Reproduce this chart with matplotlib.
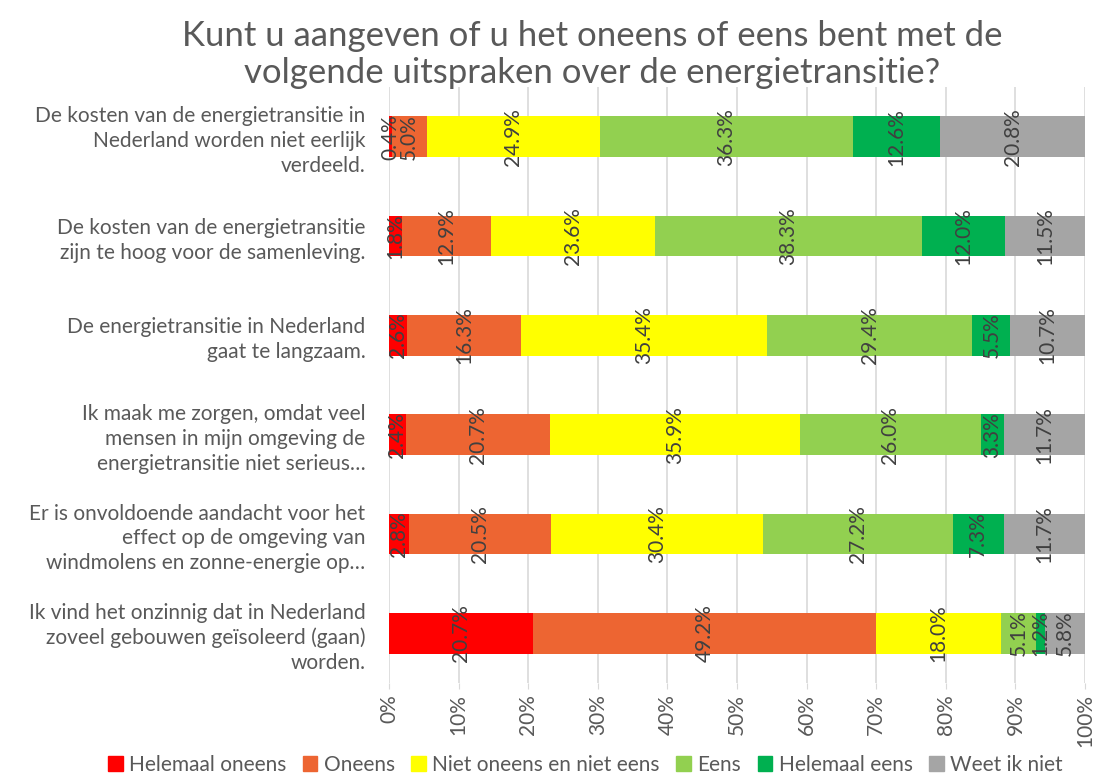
import numpy as np
import matplotlib.pyplot as plt
from matplotlib.patches import Patch

plt.rcParams['font.family'] = ['Lato', 'DejaVu Sans']

# ── data ───────────────────────────────────────
statements = [
    "De kosten van de energietransitie in\nNederland worden niet eerlijk\nverdeeld.",
    "De kosten van de energietransitie\nzijn te hoog voor de samenleving.",
    "De energietransitie in Nederland\ngaat te langzaam.",
    "Ik maak me zorgen, omdat veel\nmensen in mijn omgeving de\nenergietransitie niet serieus…",
    "Er is onvoldoende aandacht voor het\neffect op de omgeving van\nwindmolens en zonne-energie op…",
    "Ik vind het onzinnig dat in Nederland\nzoveel gebouwen geïsoleerd (gaan)\nworden.",
]
answers = ["Helemaal oneens", "Oneens", "Niet oneens en niet eens",
           "Eens", "Helemaal eens", "Weet ik niet"]
helemaal_oneens = [0.4, 1.8, 2.6, 2.4, 2.8, 20.7]
oneens          = [5.0, 12.9, 16.3, 20.7, 20.5, 49.2]
neutraal        = [24.9, 23.6, 35.4, 35.9, 30.4, 18.0]
eens            = [36.3, 38.3, 29.4, 26.0, 27.2, 5.1]
helemaal_eens   = [12.6, 12.0, 5.5, 3.3, 7.3, 1.2]
weet_niet       = [20.8, 11.5, 10.7, 11.7, 11.7, 5.8]
colors = ["#FF0000", "#ED6532", "#FFFF00", "#92D050", "#00B050", "#A5A5A5"]

series = np.array([helemaal_oneens, oneens, neutraal, eens, helemaal_eens, weet_niet])
shares = series / series.sum(axis=0) * 100   # 100% stacked

# ── plot ───────────────────────────────────────
fig = plt.figure(figsize=(10.94, 7.75), dpi=100)
ax = fig.add_axes([0.3556, 0.1187, 0.6362, 0.769])

y = np.arange(len(statements))
left = np.zeros(len(statements))
for vals, raw, col, name in zip(shares, series, colors, answers):
    ax.barh(y, vals, left=left, color=col, height=0.41, label=name, zorder=2)
    for yi, l, v, r in zip(y, left, vals, raw):
        ax.text(l + v / 2, yi, f"{r:.1f}%", rotation=90, ha="center", va="center",
                fontsize=15, color="#404040", zorder=3)
    left += vals

ax.set_xlim(0, 100)
ax.set_ylim(len(statements) - 0.5, -0.5)
ax.set_xticks(np.arange(0, 101, 10))
ax.set_xticklabels([f"{t}%" for t in range(0, 101, 10)], rotation=90,
                   fontsize=15, color="#595959")
ax.set_yticks(y)
ax.set_yticklabels(statements, fontsize=15, color="#595959", ha="right",
                   linespacing=1.3)
ax.tick_params(axis="y", length=0, pad=17)
ax.tick_params(axis="x", length=4, color="#D9D9D9", pad=4)
ax.grid(axis="x", color="#D9D9D9", lw=1.2, zorder=0)
for s in ["top", "right", "left", "bottom"]:
    ax.spines[s].set_visible(False)

fig.text(0.541, 0.93, "Kunt u aangeven of u het oneens of eens bent met de\n"
         "volgende uitspraken over de energietransitie?",
         ha="center", va="center", fontsize=25, color="#595959", linespacing=1.2)

handles = [Patch(color=c, label=n) for c, n in zip(colors, answers)]
fig.legend(handles=handles, loc="center", bbox_to_anchor=(0.535, 0.013), ncol=6,
           frameon=False, fontsize=15, handlelength=0.7, handleheight=0.7,
           handletextpad=0.3, columnspacing=0.8, labelcolor="#595959")

plt.savefig("out.png", dpi=100)
